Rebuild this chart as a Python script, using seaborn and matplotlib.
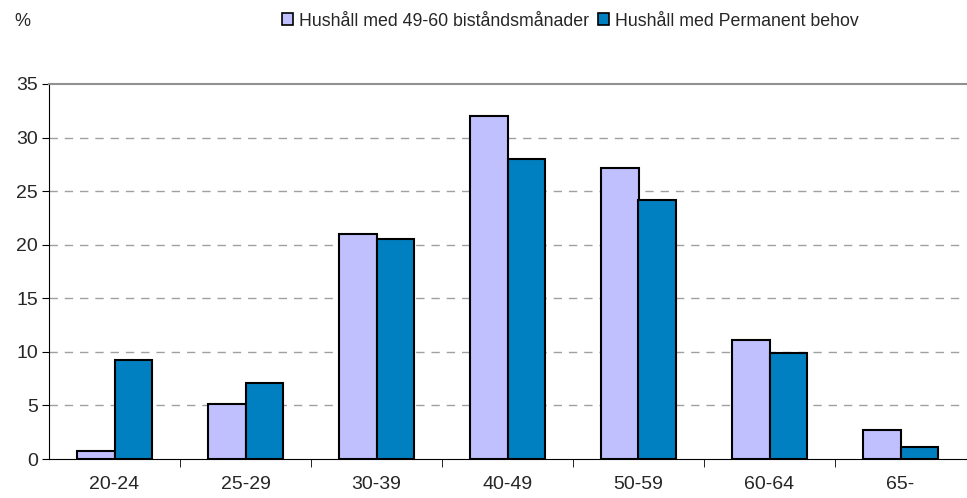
import matplotlib
matplotlib.use("Agg")
import matplotlib.pyplot as plt
import seaborn as sns
import pandas as pd
from matplotlib.patches import Patch

# Age groups and shares (%) per household type
age_groups = ['20-24', '25-29', '30-39', '40-49', '50-59', '60-64', '65-']
months_49_60 = [0.75, 5.1, 21.0, 32.0, 27.2, 11.1, 2.7]
permanent = [9.2, 7.1, 20.5, 28.0, 24.2, 9.9, 1.1]

series_names = ['Hushåll med 49-60 biståndsmånader', 'Hushåll med Permanent behov']
colors = ['#C0C0FF', '#0080C0']

df = pd.DataFrame({
    'age': age_groups * 2,
    'value': months_49_60 + permanent,
    'series': [series_names[0]] * len(age_groups) + [series_names[1]] * len(age_groups),
})

sns.set_style('white')
plt.rcParams['font.family'] = ['Liberation Sans', 'DejaVu Sans']

fig = plt.figure(figsize=(9.67, 4.98), dpi=100)
ax = fig.add_axes([49 / 967, 1 - 459 / 498, 917 / 967, 375 / 498])

sns.barplot(data=df, x='age', y='value', hue='series', palette=colors,
            width=0.58, edgecolor='black', linewidth=1.5, saturation=1,
            legend=False, ax=ax)

ax.set_ylim(0, 35)
ax.set_xlim(-0.5, len(age_groups) - 0.5)
ax.set_yticks(range(0, 36, 5))
ax.set_xlabel('')
ax.set_ylabel('')

# dashed grid lines
for y in range(5, 35, 5):
    ax.axhline(y, color='#A0A0A0', linestyle=(0, (6, 5)), linewidth=1, zorder=0)

ax.spines['top'].set_color('#909090')
ax.spines['top'].set_linewidth(1.5)
ax.spines['right'].set_visible(False)
ax.spines['left'].set_color('black')
ax.spines['bottom'].set_color('black')

ax.tick_params(axis='y', direction='out', length=5, color='black', labelsize=14, pad=3, left=True)
ax.tick_params(axis='x', which='major', length=0, labelsize=14, pad=12)
ax.set_xticks([i - 0.5 for i in range(1, len(age_groups))], minor=True)
ax.tick_params(axis='x', which='minor', direction='out', length=6, color='black', bottom=True)

fig.text(14 / 967, 1 - 21 / 498, '%', fontsize=13, va='center')

handles = [Patch(facecolor=c, edgecolor='black', linewidth=1.2) for c in colors]
fig.legend(handles, series_names, loc='center', bbox_to_anchor=(570 / 967, 1 - 21 / 498),
           ncol=2, frameon=False, fontsize=12.8, handlelength=0.65, handleheight=0.65,
           handletextpad=0.3, columnspacing=0.5)

fig.savefig('out.png', dpi=100)
